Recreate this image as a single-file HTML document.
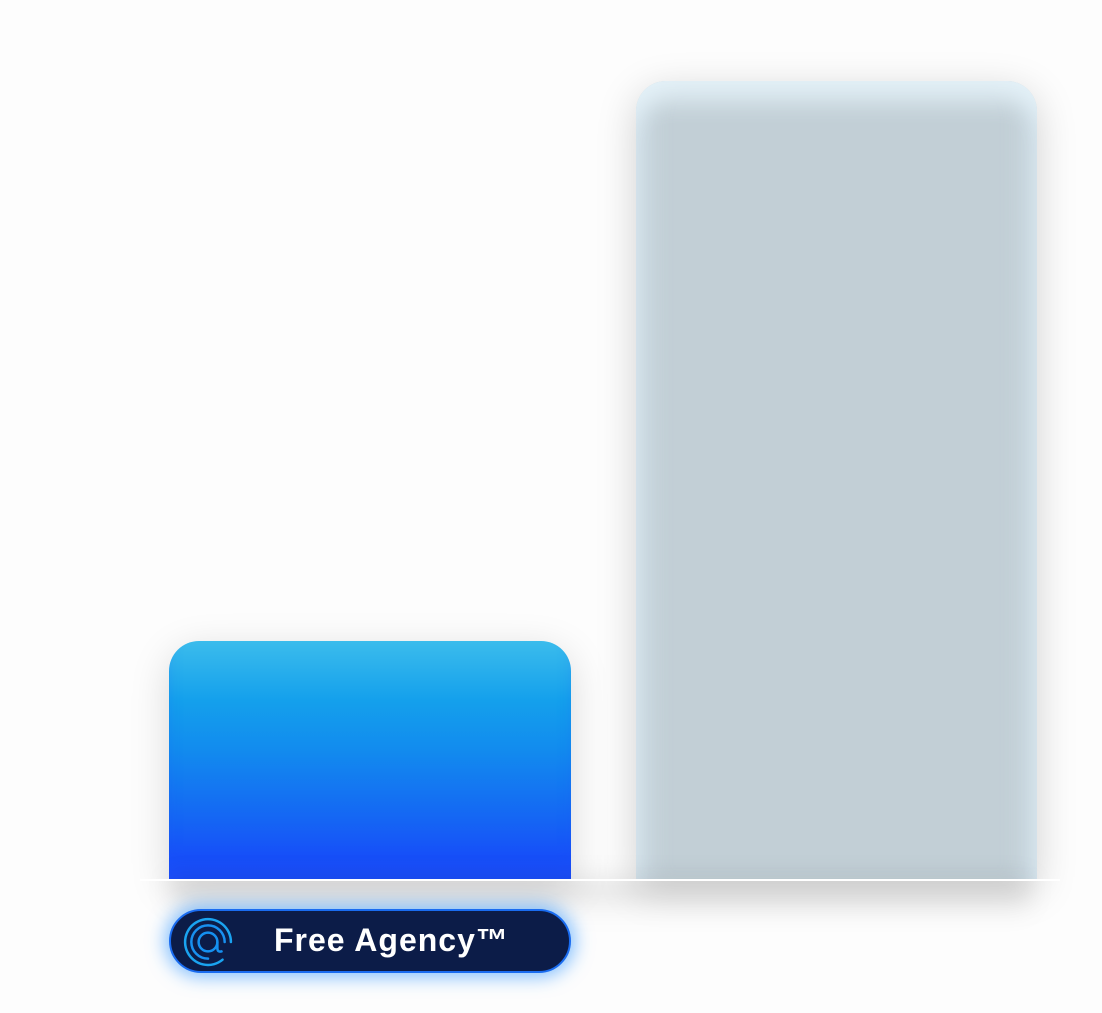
<!DOCTYPE html>
<html><head><meta charset="utf-8"><style>
html,body{margin:0;padding:0;width:1102px;height:1013px;background:#fdfdfd;overflow:hidden;position:relative;font-family:"Liberation Sans",sans-serif}
.gray{position:absolute;left:636px;top:81px;width:401px;height:799px;border-radius:30px 30px 0 0;background:#c2cfd6;box-shadow:0 10px 40px rgba(0,0,0,0.18), inset 0 30px 25px -10px rgba(230,243,250,0.9), inset 25px 0 25px -15px rgba(220,235,245,0.7), inset -25px 0 25px -15px rgba(220,235,245,0.7);}
.blue{position:absolute;left:169px;top:641px;width:402px;height:239px;border-radius:30px 30px 0 0;background:linear-gradient(180deg,#3bbcec 0%,#14a0ec 25%,#128cee 45%,#1565f4 75%,#1750f8 90%,#1a4dfa 100%);box-shadow:0 10px 40px rgba(0,0,0,0.15), inset 0 -20px 20px -10px rgba(30,80,250,0.6);}
.shadowband{position:absolute;left:170px;top:878px;width:860px;height:40px;background:linear-gradient(180deg,rgba(0,0,0,0.12),rgba(0,0,0,0));filter:blur(12px)}
.line{position:absolute;left:140px;top:879px;width:920px;height:2px;background:#fff}
.pill{position:absolute;left:169px;top:909px;width:398px;height:60px;border-radius:32px;background:#0c1c48;border:2px solid #1a6cf0;box-shadow:0 0 18px 4px rgba(30,140,255,0.55);}
.pill span{position:absolute;left:103px;top:11px;color:#fff;font-weight:bold;font-size:32px;letter-spacing:1px}
.pill svg{position:absolute;left:12px;top:6px}
</style></head><body>
<div class="gray"></div>
<div class="blue"></div>
<div class="shadowband"></div>
<div class="line"></div>
<div class="pill">
<svg width="50" height="50" viewBox="0 0 48 48" fill="none" stroke-linecap="round">
<path d="M46 24 A22 22 0 1 0 38 41" stroke="#1aa3f0" stroke-width="2.4"/>
<path d="M40 24 A16 16 0 1 0 24 40" stroke="#1890f0" stroke-width="2.4"/>
<circle cx="24" cy="24" r="9" stroke="#1590f0" stroke-width="2.4"/>
<path d="M33 24 L33 30 Q33 34 37 33" stroke="#1590f0" stroke-width="2.4"/>
</svg>
<span>Free Agency™</span>
</div>
</body></html>
